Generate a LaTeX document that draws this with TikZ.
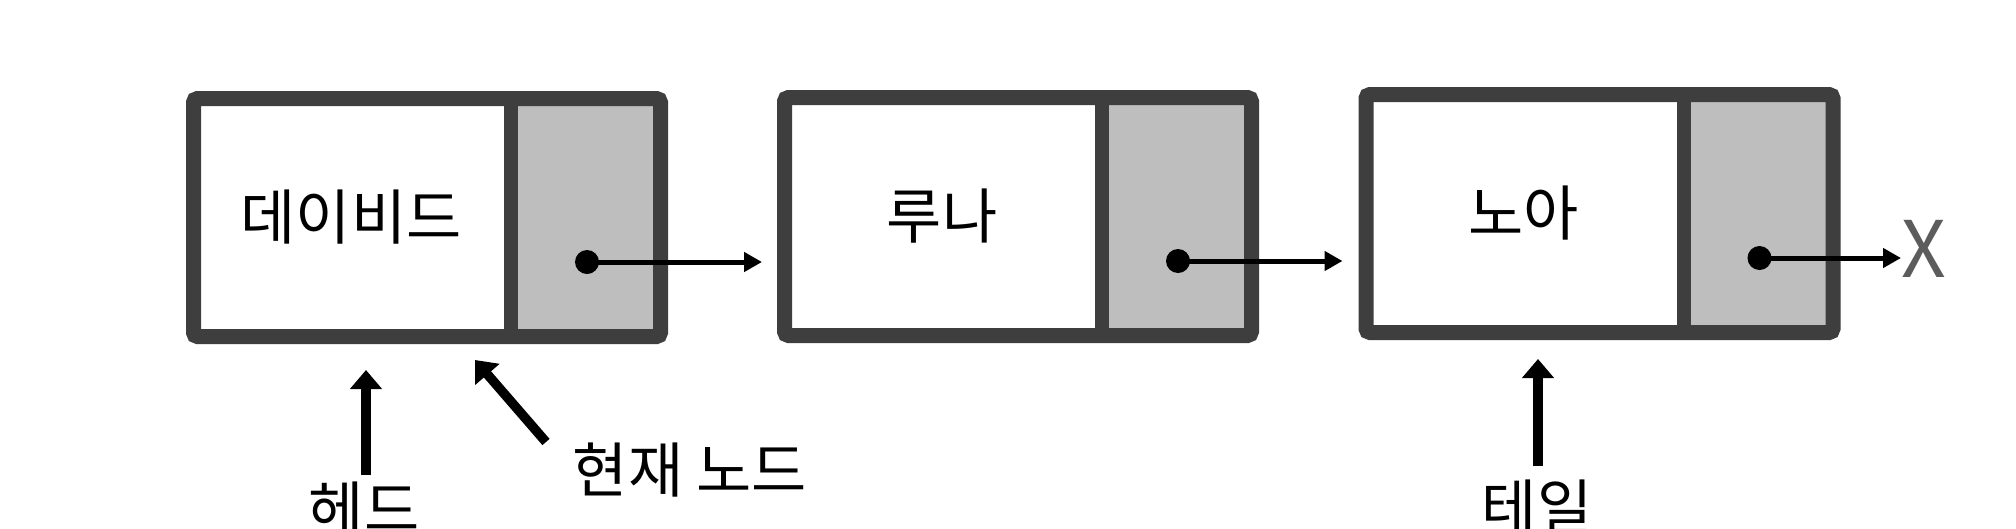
\documentclass[tikz,border=0pt]{standalone}
\usepackage{fontspec}
\setmainfont{Noto Sans CJK KR}
\usetikzlibrary{arrows.meta,calc}
\definecolor{framecol}{HTML}{3E3E3E}
\definecolor{cellcol}{HTML}{BEBEBE}
\definecolor{xcol}{HTML}{5C5C5C}
\tikzset{
  listbox/.style={draw=framecol,line width=15pt,rounded corners=4pt,
    minimum width=467pt,minimum height=238pt,inner sep=0pt},
  divider/.style={draw=framecol,line width=14pt},
  word/.style={inner sep=0pt,font=\fontsize{60pt}{64pt}\selectfont},
  dotnode/.style={circle,fill=black,inner sep=0pt,minimum size=24pt},
  ptr/.style={line width=5pt,-{Triangle[length=18pt,width=19pt]}},
  upptr/.style={line width=9.5pt,-{Triangle[length=19pt,width=31pt]}}
}
\begin{document}
\begin{tikzpicture}[x=1pt,y=-1pt]
\useasboundingbox (0,0) rectangle (2016,528);
\clip (0,0) rectangle (2016,528);
\fill[white] (0,0) rectangle (2016,528);
\foreach \n/\cx/\cy/\t in {1/427/217.5/데이비드,2/1018/216.5/루나,3/1599.5/213.5/노아}{
  \fill[cellcol] (\cx-241+325,\cy-119) rectangle (\cx+234,\cy+119);
  \node[listbox] (b\n) at (\cx,\cy) {};
  \draw[divider] (\cx-241+325,\cy-119) -- (\cx-241+325,\cy+119);
  \node[word] (t\n) at (\cx-241+165,\cy) {\t};
  \node[dotnode] (d\n) at (\cx-241+401,\cy+44.5) {};
}
\node[inner sep=0pt,text=xcol,font=\fontsize{78pt}{80pt}\selectfont,anchor=west] (xn) at (1901,248.5) {X};
\coordinate (a1) at (d1 -| b2.west);
\coordinate (a2) at (d2 -| b3.west);
\coordinate (a3) at (d3 -| xn.west);
\draw[ptr,shorten >=15pt] (d1.center) -- (a1);
\draw[ptr,shorten >=16pt] (d2.center) -- (a2);
\draw[ptr] (d3.center) -- (a3);
% bottom labels
\node[word] (hl) at (364,509) {헤드};
\node[word] (cl) at (690,470) {현재 노드};
\node[word] (tl) at (1537,507) {테일};
\coordinate (h0) at (366,475);
\coordinate (h1) at (366,370);
\coordinate (c0) at (546,442);
\coordinate (c1) at (475,360);
\coordinate (e0) at (1538,466);
\coordinate (e1) at (1538,359);
\draw[upptr] (h0) -- (h1);
\draw[upptr] (c0) -- (c1);
\draw[upptr] (e0) -- (e1);
\end{tikzpicture}
\end{document}
